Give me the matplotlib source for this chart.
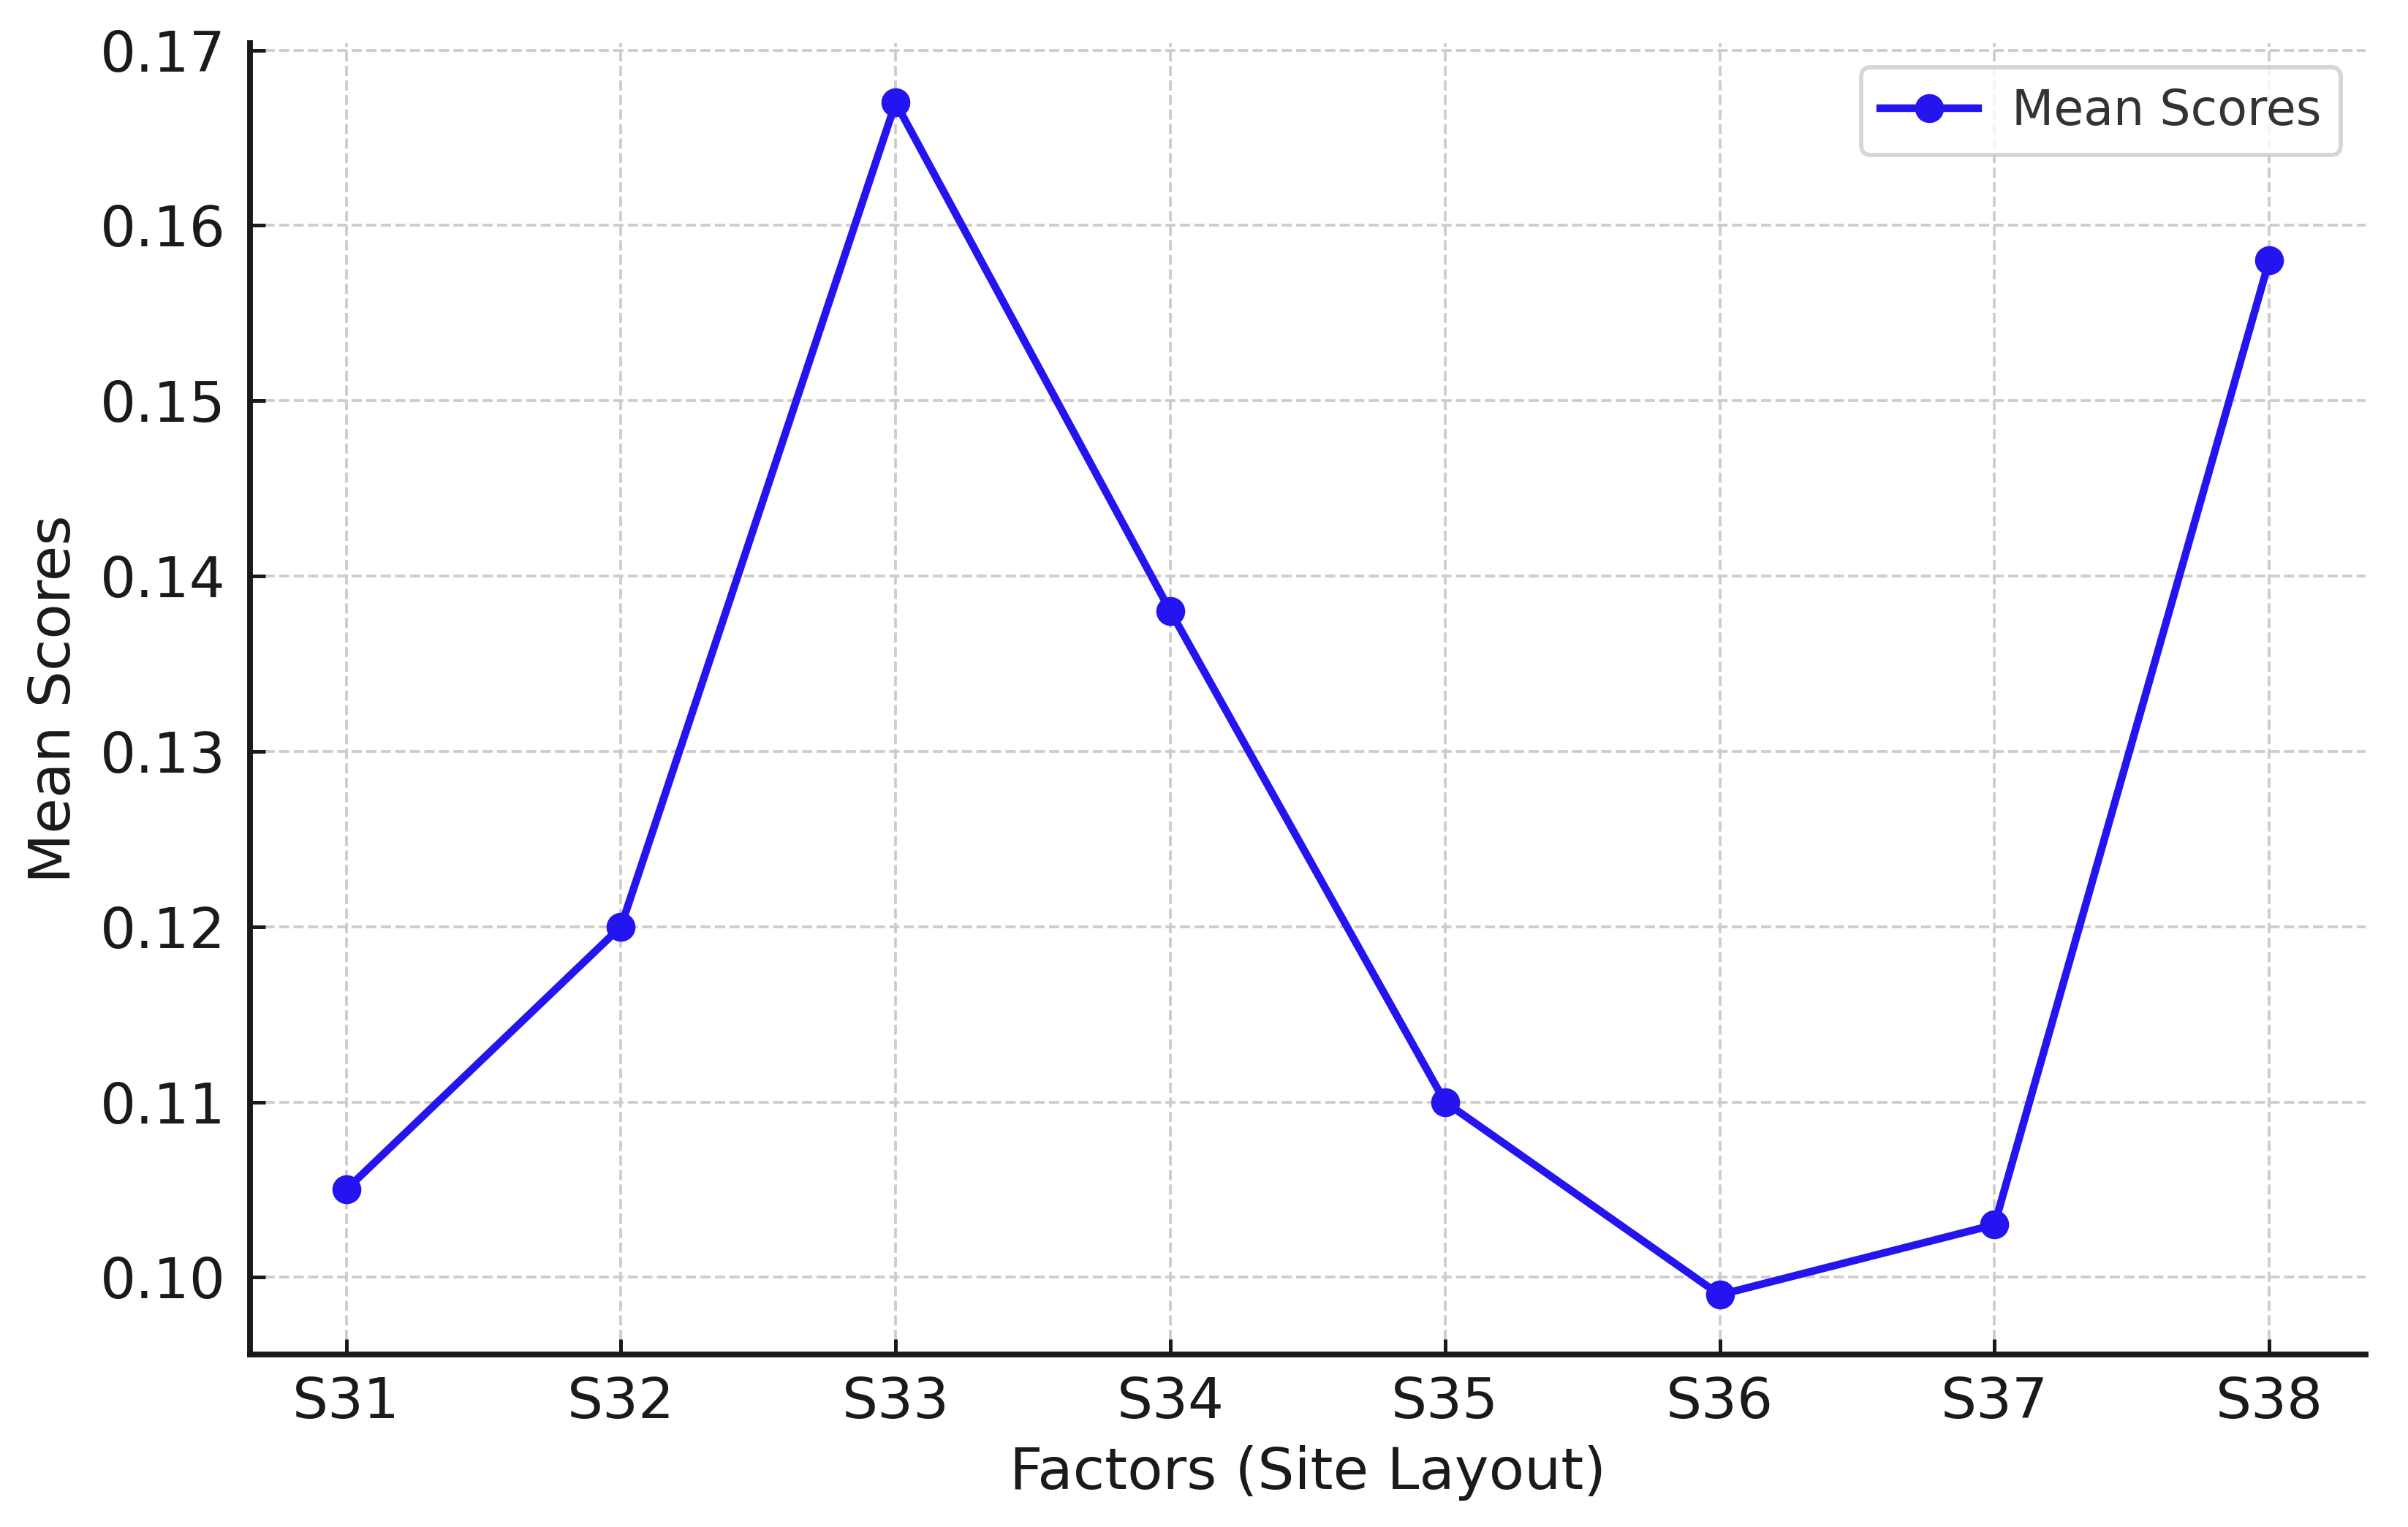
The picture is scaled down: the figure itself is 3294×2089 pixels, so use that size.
import matplotlib
matplotlib.use("Agg")
import matplotlib.pyplot as plt

# --- data ---
factors = ["S31", "S32", "S33", "S34", "S35", "S36", "S37", "S38"]
mean_scores = [0.105, 0.120, 0.167, 0.138, 0.110, 0.099, 0.103, 0.158]

line_color = "#2414f0"

fig = plt.figure(figsize=(3295 / 300, 2089 / 300), dpi=300)
ax = fig.add_axes([0.1038, 0.1130, 0.8782, 0.8588])

ax.plot(factors, mean_scores, marker="o", color=line_color, linewidth=2.5,
        markersize=8.5, label="Mean Scores")

ax.grid(True, linestyle="--", color="#cccccc", linewidth=0.9)
ax.set_axisbelow(True)
for side in ["top", "right"]:
    ax.spines[side].set_visible(False)
for side in ["left", "bottom"]:
    ax.spines[side].set_linewidth(1.9)
    ax.spines[side].set_color("#1a1a1a")

ax.tick_params(axis="both", direction="in", length=5, width=1.2,
               labelsize=18.5, colors="#1a1a1a")
ax.tick_params(axis="x", pad=7)
ax.tick_params(axis="y", pad=8)
ax.set_yticks([0.10, 0.11, 0.12, 0.13, 0.14, 0.15, 0.16, 0.17])
ax.set_yticklabels([f"{v:.2f}" for v in ax.get_yticks()])

ax.set_xlabel("Factors (Site Layout)", fontsize=19, color="#1a1a1a", labelpad=5)
ax.set_ylabel("Mean Scores", fontsize=19, color="#1a1a1a", labelpad=6)

leg = ax.legend(loc="upper right", fontsize=16, frameon=True, fancybox=True,
                borderpad=0.4, handlelength=2.0, handletextpad=0.7)
leg.get_frame().set_edgecolor("#cccccc")
leg.get_frame().set_linewidth(1.4)
for t in leg.get_texts():
    t.set_color("#333333")

fig.savefig("out.png", dpi=300)
